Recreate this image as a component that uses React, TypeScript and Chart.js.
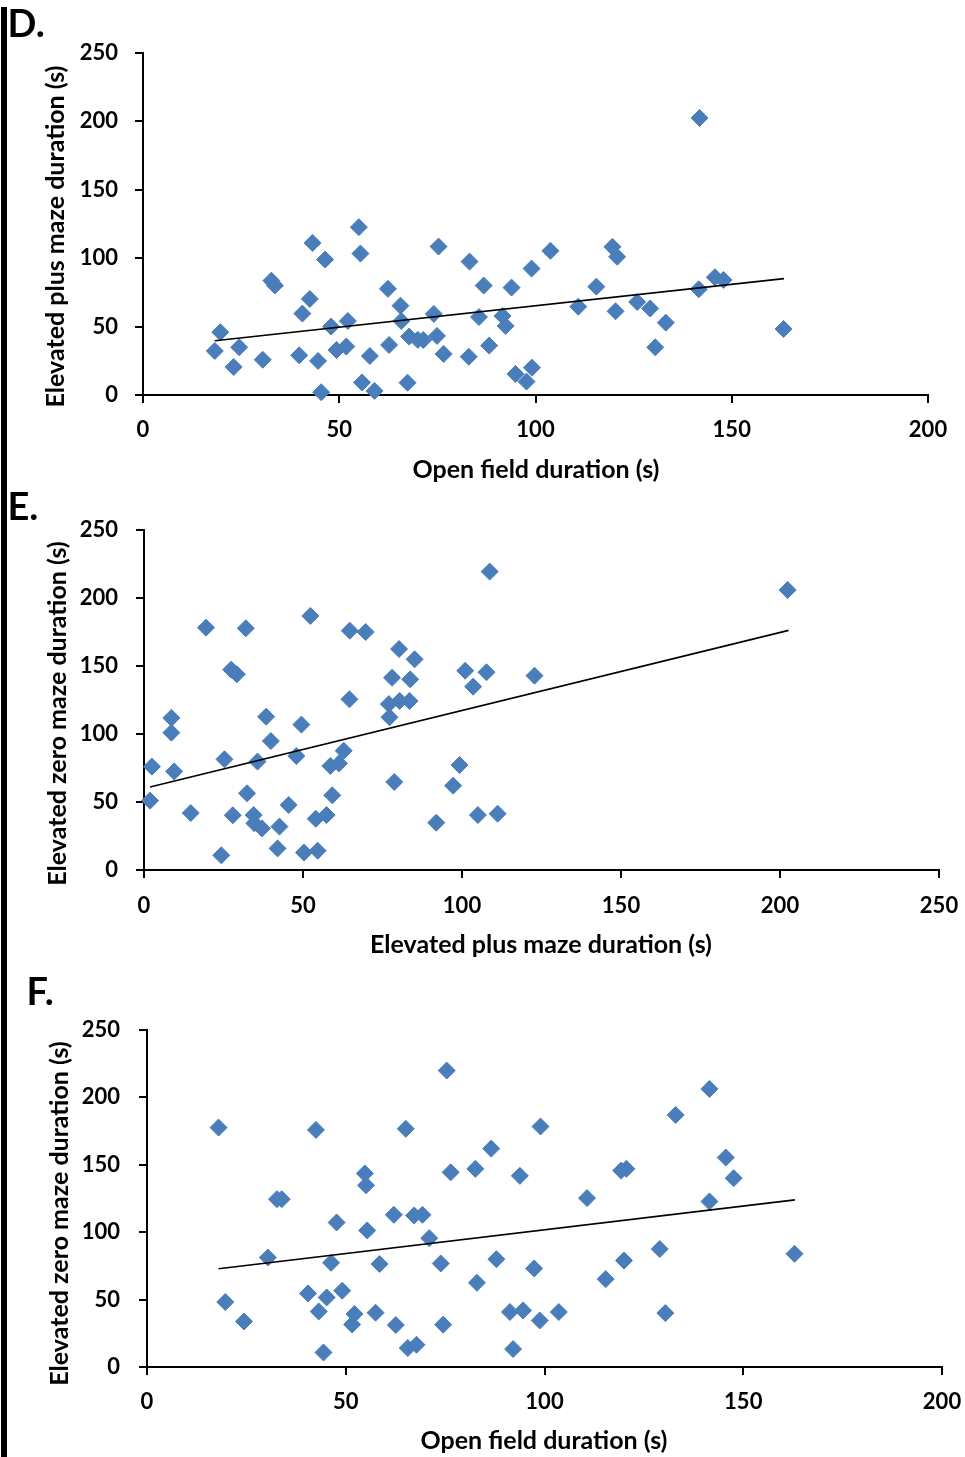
import React, { useEffect, useRef } from 'react';
import { Chart, registerables } from 'chart.js';

Chart.register(...registerables);

// ---------------- DATA ----------------
// Panel D: Open field duration (x) vs Elevated plus maze duration (y)
const dOpenField = [18.3, 19.7, 23.1, 24.5, 30.5, 32.7, 33.6, 39.8, 40.6, 42.5, 43.2, 44.6, 45.4, 46.4, 47.9, 49.3, 51.8, 52.2, 55.0, 55.4, 55.8, 57.8, 59.0, 62.4, 62.7, 65.6, 65.8, 67.4, 67.8, 70.0, 71.4, 74.9, 74.1, 76.6, 75.3, 83.2, 83.0, 86.8, 85.6, 88.2, 91.6, 92.4, 93.9, 94.9, 97.7, 99.1, 99.0, 103.8, 110.9, 115.5, 119.6, 120.8, 120.4, 125.9, 129.2, 130.5, 133.2, 141.8, 141.6, 145.7, 147.9, 163.2];
const dPlusMaze = [32.2, 45.9, 20.5, 34.9, 25.8, 83.6, 80.0, 29.0, 59.5, 70.2, 111.2, 24.9, 2.0, 99.0, 50.0, 32.9, 35.4, 54.1, 122.7, 103.4, 9.2, 28.5, 3.0, 77.6, 36.6, 65.3, 54.1, 9.0, 42.7, 40.3, 40.2, 43.2, 59.3, 30.0, 108.5, 97.5, 28.0, 80.0, 57.0, 36.1, 57.8, 50.5, 78.5, 15.4, 9.8, 20.0, 92.4, 105.4, 64.6, 79.2, 108.3, 101.0, 61.2, 68.0, 63.2, 34.9, 52.9, 202.5, 77.3, 86.1, 84.1, 48.3];
const dTrendX = [18.3, 163.3];
const dTrendY = [39.7, 85.1];
const dXTicks = [0, 50, 100, 150, 200];
const dYTicks = [0, 50, 100, 150, 200, 250];

// Panel E: Elevated plus maze duration (x) vs Elevated zero maze duration (y)
const ePlusMaze = [1.9, 2.5, 8.6, 8.6, 9.5, 14.7, 19.5, 24.3, 25.3, 27.4, 27.9, 29.2, 32.0, 32.4, 34.5, 34.7, 37.1, 35.7, 38.4, 39.9, 42.6, 42.0, 45.5, 47.9, 49.5, 50.3, 52.3, 54.0, 54.6, 57.4, 58.6, 59.2, 61.3, 62.8, 64.6, 64.7, 69.7, 77.2, 77.0, 78.0, 78.7, 80.2, 80.4, 83.5, 83.7, 85.1, 91.9, 97.2, 99.2, 101.0, 103.5, 105.0, 107.7, 108.7, 111.2, 122.8, 202.4];
const eZeroMaze = [51.0, 76.0, 111.8, 101.0, 72.5, 41.9, 178.2, 10.8, 81.4, 147.3, 40.2, 143.9, 177.7, 56.4, 40.4, 34.3, 30.6, 79.7, 112.7, 94.8, 31.9, 15.9, 47.8, 83.8, 106.9, 12.8, 186.8, 37.7, 14.2, 40.4, 76.5, 54.9, 78.4, 87.7, 125.5, 176.0, 175.0, 112.3, 122.0, 141.4, 64.7, 162.5, 124.3, 124.3, 140.2, 154.9, 34.8, 62.0, 77.2, 146.5, 134.8, 40.4, 145.4, 219.4, 41.4, 142.9, 205.9];
const eTrendX = [1.9, 202.7];
const eTrendY = [61.0, 176.2];
const eXTicks = [0, 50, 100, 150, 200, 250];
const eYTicks = [0, 50, 100, 150, 200, 250];

// Panel F: Open field duration (x) vs Elevated zero maze duration (y)
const fOpenField = [18.0, 19.7, 24.4, 30.4, 32.7, 33.9, 40.5, 42.5, 43.2, 44.4, 45.2, 46.3, 47.7, 49.1, 51.6, 52.2, 54.8, 55.1, 55.4, 57.5, 58.5, 62.1, 62.6, 65.1, 65.6, 67.2, 67.8, 69.3, 71.0, 73.9, 74.5, 75.4, 76.4, 82.6, 83.0, 86.6, 87.9, 93.8, 91.3, 94.6, 92.1, 97.4, 98.8, 99.0, 103.6, 110.7, 115.4, 119.3, 120.6, 120.0, 129.0, 130.4, 133.0, 141.5, 141.5, 145.6, 147.6, 162.9];
const fZeroMaze = [177.6, 48.2, 33.8, 81.2, 124.5, 124.5, 54.6, 175.9, 41.2, 10.8, 51.6, 77.3, 107.2, 56.6, 31.6, 39.3, 143.6, 134.8, 101.3, 40.3, 76.4, 112.9, 31.1, 176.7, 14.1, 112.4, 16.5, 112.9, 95.6, 76.8, 31.4, 219.9, 144.4, 147.0, 62.5, 162.0, 80.0, 141.8, 40.8, 42.0, 13.3, 73.1, 34.5, 178.4, 40.8, 125.3, 65.2, 145.7, 147.0, 79.0, 87.5, 40.0, 187.0, 206.3, 122.8, 155.4, 140.1, 84.0];
const fTrendX = [18.0, 163.0];
const fTrendY = [72.9, 124.0];
const fXTicks = [0, 50, 100, 150, 200];
const fYTicks = [0, 50, 100, 150, 200, 250];

const titleOpenField = 'Open field duration (s)';
const titlePlusMaze = 'Elevated plus maze duration (s)';
const titleZeroMaze = 'Elevated zero maze duration (s)';

// ---------------- STYLE / LAYOUT ----------------
const FONT = 'Lato, "DejaVu Sans", sans-serif';
const BLUE = '#4a7ebb';
const PAGE_W = 965;

type Panel = {
  label: string;
  xs: number[];
  ys: number[];
  tx: number[];
  ty: number[];
  xTicks: number[];
  yTicks: number[];
  xTitle: string;
  yTitle: string;
  top: number;
  height: number;
  area: { l: number; r: number; t: number; b: number };
  labelPos: { x: number; y: number };
  xTitlePos: { x: number; y: number };
  yTitlePos: { x: number; y: number };
  yLabelPad: number;
  xLabelPad: number;
};

const panels: Panel[] = [
  {
    label: 'D.', xs: dOpenField, ys: dPlusMaze, tx: dTrendX, ty: dTrendY,
    xTicks: dXTicks, yTicks: dYTicks, xTitle: titleOpenField, yTitle: titlePlusMaze,
    top: 0, height: 488,
    area: { l: 143, r: 928, t: 53, b: 395 },
    labelPos: { x: 7.5, y: 37 },
    xTitlePos: { x: 536, y: 470 },
    yTitlePos: { x: 56, y: 236.5 },
    yLabelPad: 17, xLabelPad: 14,
  },
  {
    label: 'E.', xs: ePlusMaze, ys: eZeroMaze, tx: eTrendX, ty: eTrendY,
    xTicks: eXTicks, yTicks: eYTicks, xTitle: titlePlusMaze, yTitle: titleZeroMaze,
    top: 488, height: 477,
    area: { l: 144, r: 939, t: 42, b: 382 },
    labelPos: { x: 7.5, y: 31.5 },
    xTitlePos: { x: 541, y: 457 },
    yTitlePos: { x: 57.5, y: 225.5 },
    yLabelPad: 18, xLabelPad: 14.5,
  },
  {
    label: 'F.', xs: fOpenField, ys: fZeroMaze, tx: fTrendX, ty: fTrendY,
    xTicks: fXTicks, yTicks: fYTicks, xTitle: titleOpenField, yTitle: titleZeroMaze,
    top: 965, height: 492,
    area: { l: 147, r: 942, t: 65, b: 402 },
    labelPos: { x: 26.5, y: 40 },
    xTitlePos: { x: 544, y: 476 },
    yTitlePos: { x: 59.5, y: 248.5 },
    yLabelPad: 19, xLabelPad: 14,
  },
];

const textPlugin = {
  id: 'panelText',
  afterDraw(chart: any, _args: any, opts: any) {
    const ctx = chart.ctx;
    for (const t of opts.items || []) {
      ctx.save();
      ctx.font = t.font;
      ctx.fillStyle = '#000';
      ctx.textAlign = t.align || 'center';
      ctx.textBaseline = t.baseline || 'middle';
      ctx.translate(t.x, t.y);
      if (t.rotate) ctx.rotate(t.rotate);
      ctx.fillText(t.text, 0, 0);
      ctx.restore();
    }
  },
};

function PanelChart({ p }: { p: Panel }) {
  const ref = useRef<HTMLCanvasElement | null>(null);
  useEffect(() => {
    if (!ref.current) return;
    const points = p.xs.map((x, i) => ({ x, y: p.ys[i] }));
    const trend = p.tx.map((x, i) => ({ x, y: p.ty[i] }));
    const tickFont = { family: FONT, size: 22, weight: 'bold' as const };
    const gridOpts = {
      display: true,
      drawOnChartArea: false,
      drawTicks: true,
      tickLength: 8,
      color: '#000',
      lineWidth: 2,
    };
    const chart = new Chart(ref.current, {
      type: 'scatter',
      data: {
        datasets: [
          {
            data: trend,
            showLine: true,
            borderColor: '#000',
            borderWidth: 1.6,
            pointRadius: 0,
            order: 0,
            clip: false as any,
          } as any,
          {
            data: points,
            pointStyle: 'rectRot',
            pointRadius: 8.5,
            pointHoverRadius: 8.5,
            backgroundColor: BLUE,
            borderColor: BLUE,
            borderWidth: 1,
            order: 1,
            clip: false as any,
          } as any,
        ],
      },
      options: {
        animation: false,
        responsive: false,
        events: [],
        layout: {
          padding: { left: 0, top: p.area.t, right: PAGE_W - p.area.r, bottom: 0 },
        },
        plugins: {
          legend: { display: false },
          tooltip: { enabled: false },
          panelText: {
            items: [
              { text: p.label, x: p.labelPos.x, y: p.labelPos.y, font: `bold 38px ${FONT}`, align: 'left', baseline: 'alphabetic' },
              { text: p.xTitle, x: p.xTitlePos.x, y: p.xTitlePos.y, font: `bold 25px ${FONT}` },
              { text: p.yTitle, x: p.yTitlePos.x, y: p.yTitlePos.y, font: `bold 25px ${FONT}`, rotate: -Math.PI / 2 },
            ],
          },
        } as any,
        scales: {
          x: {
            type: 'linear',
            position: 'bottom',
            min: p.xTicks[0],
            max: p.xTicks[p.xTicks.length - 1],
            afterBuildTicks: (s: any) => { s.ticks = p.xTicks.map((v) => ({ value: v })); },
            afterFit: (s: any) => {
              s.height = p.height - p.area.b;
              s.paddingLeft = 0;
              s.paddingRight = 0;
            },
            grid: gridOpts,
            border: { display: true, color: '#000', width: 2 },
            ticks: { color: '#000', font: tickFont, padding: p.xLabelPad, maxRotation: 0, autoSkip: false },
          },
          y: {
            type: 'linear',
            position: 'left',
            min: p.yTicks[0],
            max: p.yTicks[p.yTicks.length - 1],
            afterBuildTicks: (s: any) => { s.ticks = p.yTicks.map((v) => ({ value: v })); },
            afterFit: (s: any) => {
              s.width = p.area.l;
              s.paddingTop = 0;
              s.paddingBottom = 0;
            },
            grid: gridOpts,
            border: { display: true, color: '#000', width: 2 },
            ticks: { color: '#000', font: tickFont, padding: p.yLabelPad, autoSkip: false },
          },
        },
      },
      plugins: [textPlugin as any],
    } as any);
    return () => chart.destroy();
  }, [p]);
  return (
    <canvas
      ref={ref}
      width={PAGE_W}
      height={p.height}
      style={{ position: 'absolute', left: 0, top: p.top, width: PAGE_W, height: p.height, display: 'block' }}
    />
  );
}

export default function App() {
  return (
    <div style={{ position: 'absolute', left: 0, top: 0, width: PAGE_W, height: 1457, background: '#fff', overflow: 'hidden' }}>
      <div style={{ position: 'absolute', left: 1, top: 7, width: 6, height: 1450, background: '#000' }} />
      {panels.map((p) => (
        <PanelChart key={p.label} p={p} />
      ))}
    </div>
  );
}
